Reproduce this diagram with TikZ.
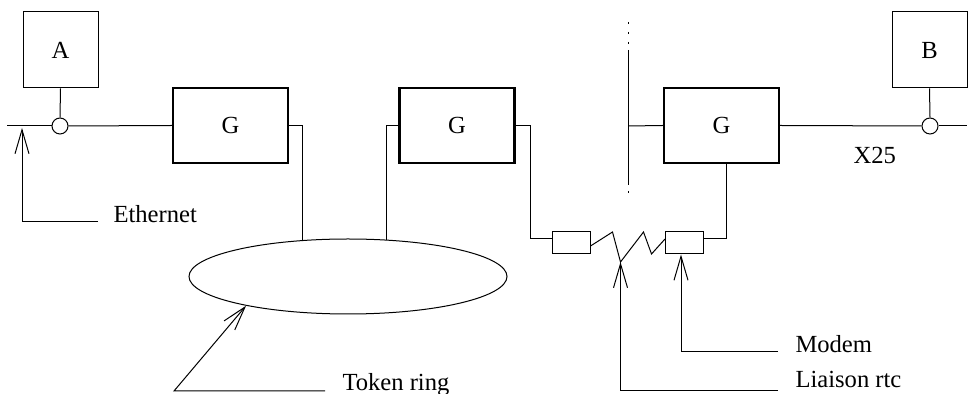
\documentclass[tikz,border=0pt]{standalone}
\usepackage{fontspec}
\setmainfont{Liberation Serif}
\usetikzlibrary{arrows.meta, shapes.geometric}

\begin{document}
\begin{tikzpicture}[x=0.5pt,y=-0.5pt,line width=0.5pt,
    font=\fontsize{12.3}{14}\selectfont,
    >={Straight Barb[length=12pt,width=7pt]},
    host/.style={draw,rectangle,inner sep=0pt,minimum width=37.5pt,minimum height=38pt},
    gate/.style={draw,rectangle,line width=1.1pt,inner sep=0pt,minimum width=57.5pt,minimum height=37.5pt},
    tap/.style={draw,circle,fill=white,inner sep=0pt,minimum size=8pt},
    modem/.style={draw,rectangle,inner sep=0pt,minimum width=19pt,minimum height=11pt},
    lbl/.style={anchor=base west,inner sep=0pt}]
    \useasboundingbox (0,0) rectangle (968,394);
    \node[host] (A) at (60.5,50) {A};
    \node[host] (B) at (929.5,50) {B};
    \node[tap] (ca) at (60,126) {};
    \node[tap] (cb) at (930,126) {};
    \node[gate] (g1) at (230.5,125.5) {G};
    \node[gate] (g2) at (457,125.5) {G};
    \node[gate] (g3) at (721.5,125.5) {G};
    \node[draw,ellipse,inner sep=0pt,minimum width=159pt,minimum height=37.5pt] (ring) at (348,276.5) {};
    \node[modem] (m1) at (571,243) {};
    \node[modem] (m2) at (684.5,243) {};
    \coordinate (ethL) at (7,126);
    \coordinate (ethtip) at (22,128);
    \coordinate (x25R) at (967,126);
    \coordinate (bord) at (628,126);
    \node[lbl] (eth) at (113,223) {Ethernet};
    \node[lbl] (tok) at (342,391) {Token ring};
    \node[lbl] (mod) at (795,353) {Modem};
    \node[lbl] (rtc) at (795,388) {Liaison rtc};
    \node[lbl] (x25) at (853,164) {X25};
    \draw (A.south) -- (ca.north);
    \draw (B.south) -- (cb.north);
    \draw (ethL) -- (ca.west);
    \draw (ca.east) -- (g1.west);
    \draw (g3.east) -- (cb.west);
    \draw (cb.east) -- (x25R);
    \draw (bord) -- (g3.west);
    \draw[dash pattern=on 1pt off 4pt on 1pt off 4pt on 1pt off 3pt on 67.5pt off 3pt on 1pt off 10pt]
        (628,22) -- (628,194);
    \draw (g1.east) -| (ring.141);
    \draw (g2.west) -| (ring.44);
    \draw (g2.east) -- ++(7.5pt,0) |- ([yshift=2pt]m1.west);
    \draw ([xshift=2.25pt]g3.south) |- ([yshift=2pt]m2.east);
    \draw ([yshift=-1.5pt]m1.east) -- ++(11pt,7pt) -- ++(4pt,-15pt) coordinate (zz)
        -- ++(11.5pt,15pt) -- ++(4pt,-11pt) -- ([yshift=2pt]m2.west);
    \draw[->] ([xshift=-7.5pt,yshift=0.5pt]eth.base west) -| (ethtip);
    \draw[->] ([xshift=-8.5pt]tok.base west) -- ++(-75.5pt,0) -- (ring.196.5);
    \draw[->] ([xshift=-8.5pt,yshift=0.5pt]mod.base west) -| ([xshift=-1.75pt]m2.south);
    \draw[->] ([xshift=-8.5pt,yshift=-1.5pt]rtc.base west) -| (zz);
\end{tikzpicture}
\end{document}
